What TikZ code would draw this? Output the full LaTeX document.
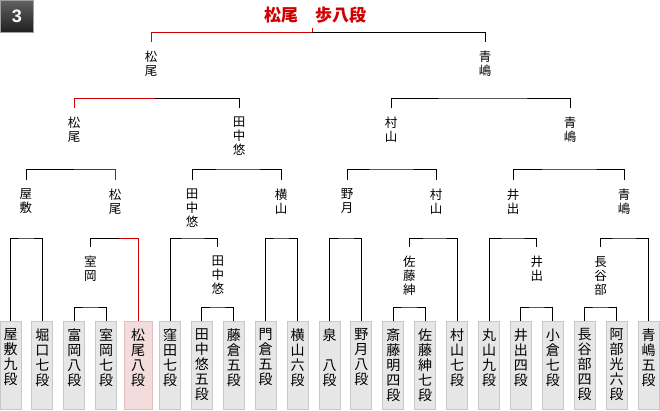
\documentclass[tikz,border=0pt]{standalone}
\usepackage{fontspec}
\usepackage{tikz}
\newfontfamily\jp{Noto Sans CJK JP}
\newfontfamily\numfont{Liberation Sans}
\definecolor{winred}{RGB}{208,0,0}
\definecolor{boxfill}{RGB}{230,230,230}
\definecolor{boxline}{RGB}{200,200,200}
\definecolor{winfill}{RGB}{242,220,220}
\definecolor{winline}{RGB}{226,190,190}

\begin{document}
\begin{tikzpicture}[x=1pt,y=-1pt,line width=1pt,
    senshu/.style={font=\jp\fontsize{12.5}{14}\selectfont,align=center,anchor=north,inner xsep=0pt,inner ysep=8.5pt},
    kishibox/.style={draw=boxline,fill=boxfill,minimum width=21pt,minimum height=88pt,anchor=north,inner sep=0pt},
    kishiname/.style={font=\jp\fontsize{14}{15}\selectfont,align=center,anchor=north,inner xsep=0pt,inner ysep=7pt},
    kachi/.style={draw=winred}]
            \useasboundingbox (0,0) rectangle (660,410);

            % round number and final
            \node[draw=gray!75,top color=black!62,bottom color=black!88,minimum width=33pt,minimum height=32pt,
                anchor=north west,inner sep=0pt,text=white,font=\numfont\bfseries\fontsize{18}{18}\selectfont] (badge) at (0,0) {3};
            \node[font=\jp\bfseries\fontsize{17}{17}\selectfont,text=winred,inner sep=0pt] (title) at (315,15) {松尾　歩八段};

            \coordinate (j0) at (312,32);
            \coordinate (j1a) at (155,98);
            \coordinate (j1b) at (485,98);
            \coordinate (j2a) at (74,169);
            \coordinate (j2b) at (239,169);
            \coordinate (j2c) at (391,169);
            \coordinate (j2d) at (570,169);
            \coordinate (j3a) at (26,238);
            \coordinate (j3b) at (119,238);
            \coordinate (j3c) at (192,238);
            \coordinate (j3d) at (281,238);
            \coordinate (j3e) at (347,238);
            \coordinate (j3f) at (436,238);
            \coordinate (j3g) at (513,238);
            \coordinate (j3h) at (624,238);
            \coordinate (j4a) at (90.3,307);
            \coordinate (j4b) at (217.9,307);
            \coordinate (j4c) at (409.3,307);
            \coordinate (j4d) at (536.9,307);
            \coordinate (j4e) at (600.7,307);

            \node[senshu] (l1a) at (151,42) {松\\尾};
            \node[senshu] (l1b) at (485,42) {青\\嶋};

            \node[senshu] (l2a) at (74,108) {松\\尾};
            \node[senshu] (l2b) at (239,108) {田\\中\\悠};
            \node[senshu] (l2c) at (391,108) {村\\山};
            \node[senshu] (l2d) at (570,108) {青\\嶋};

            \node[senshu] (l3a) at (26,180) {屋\\敷};
            \node[senshu] (l3b) at (115,180) {松\\尾};
            \node[senshu] (l3c) at (192,180) {田\\中\\悠};
            \node[senshu] (l3d) at (281,180) {横\\山};
            \node[senshu] (l3e) at (347,180) {野\\月};
            \node[senshu] (l3f) at (436,180) {村\\山};
            \node[senshu] (l3g) at (513,180) {井\\出};
            \node[senshu] (l3h) at (624,180) {青\\嶋};

            \node[senshu] (s1) at (90.3,247) {室\\岡};
            \node[senshu] (s2) at (217.9,247) {田\\中\\悠};
            \node[senshu] (s3) at (409.3,247) {佐\\藤\\紳};
            \node[senshu] (s4) at (536.9,247) {井\\出};
            \node[senshu] (s5) at (600.7,247) {長\\谷\\部};

            % players
            \foreach \i/\txt in {0/{屋\\敷\\九\\段},1/{堀\\口\\七\\段},2/{富\\岡\\八\\段},3/{室\\岡\\七\\段},
                5/{窪\\田\\七\\段},6/{田\\中\\悠\\五\\段},7/{藤\\倉\\五\\段},8/{門\\倉\\五\\段},9/{横\\山\\六\\段},
                10/{泉\\　\\八\\段},11/{野\\月\\八\\段},12/{斎\\藤\\明\\四\\段},13/{佐\\藤\\紳\\七\\段},14/{村\\山\\七\\段},
                15/{丸\\山\\九\\段},16/{井\\出\\四\\段},17/{小\\倉\\七\\段},18/{長\\谷\\部\\四\\段},19/{阿\\部\\光\\六\\段},
                20/{青\\嶋\\五\\段}}{
                \node[kishibox] (p\i) at ({10.5+31.9*\i},321) {};
                \node[kishiname] (k\i) at (p\i.north) {\txt};
            }
            \node[kishibox,draw=winline,fill=winfill,minimum width=28pt] (p4) at (138.1,321) {};
            \node[kishiname] (k4) at (p4.north) {松\\尾\\八\\段};

            % brackets
            \draw[kachi] (j0) -- ++(0,-4);
            \draw[kachi] (l1a.north) |- (j0);
            \draw (j0) -| (l1b.north);

            \draw[kachi] (l2a.north) |- (j1a);
            \draw (j1a) -| (l2b.north);
            \draw (l2c.north) |- (j1b) -| (l2d.north);

            \draw (l3a.north) |- (j2a);
            \draw[kachi] (j2a) -| (l3b.north);
            \draw (l3c.north) |- (j2b) -| (l3d.north);
            \draw (l3e.north) |- (j2c) -| (l3f.north);
            \draw (l3g.north) |- (j2d) -| (l3h.north);

            \draw (p0.north) |- (j3a) -| (p1.north);
            \draw (s1.north) |- (j3b);
            \draw[kachi] (j3b) -| (p4.north);
            \draw (p5.north) |- (j3c) -| (s2.north);
            \draw (p8.north) |- (j3d) -| (p9.north);
            \draw (p10.north) |- (j3e) -| (p11.north);
            \draw (s3.north) |- (j3f) -| (p14.north);
            \draw (p15.north) |- (j3g) -| (s4.north);
            \draw (s5.north) |- (j3h) -| (p20.north);

            \draw (p2.north) |- (j4a) -| (p3.north);
            \draw (p6.north) |- (j4b) -| (p7.north);
            \draw (p12.north) |- (j4c) -| (p13.north);
            \draw (p16.north) |- (j4d) -| (p17.north);
            \draw (p18.north) |- (j4e) -| (p19.north);
        \end{tikzpicture}
\end{document}
